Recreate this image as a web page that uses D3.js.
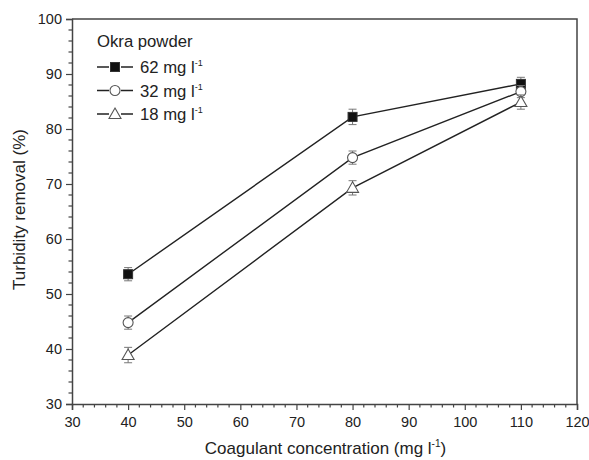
<!DOCTYPE html>
<html>
<head>
<meta charset="utf-8">
<script src="https://cdn.jsdelivr.net/npm/d3@7"></script>
<style>
  body { margin: 0; background: #fff; }
  text { font-family: Arial, "Liberation Sans", sans-serif; fill: #222; }
</style>
</head>
<body>
<div id="chart"></div>
<script>
// data
var doses = [40, 80, 110];
var series = ["62 mg l", "32 mg l", "18 mg l"];
var removal62 = [53.6, 82.2, 88.2];
var removal32 = [44.8, 74.8, 86.8];
var removal18 = [38.9, 69.3, 84.9];
var err62 = [1.2, 1.4, 1.2];
var err32 = [1.2, 1.2, 1.1];
var err18 = [1.4, 1.3, 1.3];
var xTicks = [30, 40, 50, 60, 70, 80, 90, 100, 110, 120];
var yTicks = [30, 40, 50, 60, 70, 80, 90, 100];

(function () {
  var W = 589, H = 460;
  var margin = {top: 19, right: 12, bottom: 56, left: 72};
  var width = W - margin.left - margin.right,
      height = H - margin.top - margin.bottom;

  var svg = d3.select("#chart").append("svg")
      .attr("width", W).attr("height", H)
    .append("g")
      .attr("transform", "translate(" + margin.left + "," + margin.top + ")");

  var x = d3.scaleLinear().domain([30, 120]).range([0, width]);
  var y = d3.scaleLinear().domain([30, 100]).range([height, 0]);

  var axisColor = "#444";

  // frame (top and right)
  svg.append("path")
    .attr("d", "M0,0H" + width + "V" + height)
    .attr("fill", "none").attr("stroke", axisColor).attr("stroke-width", 1.5);

  // minor ticks
  var xMinor = d3.range(30, 121, 2).filter(function (v) { return v % 10 !== 0; });
  var yMinor = d3.range(30, 101, 2).filter(function (v) { return v % 10 !== 0; });

  var gx = svg.append("g").attr("transform", "translate(0," + height + ")");
  gx.call(d3.axisBottom(x).tickValues(xTicks).tickSize(6).tickPadding(7));
  gx.selectAll(".minor").data(xMinor).join("line")
    .attr("x1", function (d) { return x(d); }).attr("x2", function (d) { return x(d); })
    .attr("y1", 0).attr("y2", 3.5);

  var gy = svg.append("g");
  gy.call(d3.axisLeft(y).tickValues(yTicks).tickSize(6).tickPadding(4));
  gy.selectAll(".minor").data(yMinor).join("line")
    .attr("y1", function (d) { return y(d); }).attr("y2", function (d) { return y(d); })
    .attr("x1", 0).attr("x2", -3.5);

  [gx, gy].forEach(function (g) {
    g.select(".domain").attr("stroke", axisColor).attr("stroke-width", 1.5);
    g.selectAll("line").attr("stroke", axisColor).attr("stroke-width", 1.2);
    g.selectAll("text").style("font-size", "14.5px").attr("fill", "#333")
      .style("font-family", "Arial, 'Liberation Sans', sans-serif");
  });

  // axis titles
  var xt = svg.append("text")
    .attr("x", width / 2 + 1).attr("y", height + 50)
    .attr("text-anchor", "middle").style("font-size", "17px");
  xt.append("tspan").text("Coagulant concentration (mg l");
  xt.append("tspan").attr("dy", -7).style("font-size", "10px").text("-1");
  xt.append("tspan").attr("dy", 7).text(")");

  svg.append("text")
    .attr("transform", "rotate(-90)")
    .attr("x", -height / 2 + 2).attr("y", -47)
    .attr("text-anchor", "middle").style("font-size", "17px")
    .text("Turbidity removal (%)");

  var data = [
    {name: series[0], vals: removal62, err: err62, shape: "square"},
    {name: series[1], vals: removal32, err: err32, shape: "circle"},
    {name: series[2], vals: removal18, err: err18, shape: "triangle"}
  ];

  var line = d3.line()
    .x(function (d) { return x(d.x); })
    .y(function (d) { return y(d.y); });

  function drawMarker(g, shape) {
    if (shape === "square") {
      g.append("rect").attr("x", -4.5).attr("y", -4.5).attr("width", 9).attr("height", 9)
        .attr("fill", "#111").attr("stroke", "#333").attr("stroke-width", 1);
    } else if (shape === "circle") {
      g.append("circle").attr("r", 5)
        .attr("fill", "#fff").attr("stroke", "#555").attr("stroke-width", 1.1);
    } else {
      g.append("path").attr("d", "M0,-6L6,4.5L-6,4.5Z")
        .attr("fill", "#fff").attr("stroke", "#555").attr("stroke-width", 1.1);
    }
  }

  data.forEach(function (s) {
    var pts = doses.map(function (d, i) { return {x: d, y: s.vals[i], e: s.err[i]}; });

    svg.append("path").datum(pts)
      .attr("d", line)
      .attr("fill", "none").attr("stroke", "#222").attr("stroke-width", 1.4);

    var eb = svg.append("g").selectAll("g").data(pts).join("g")
      .attr("stroke", "#777").attr("stroke-width", 1);
    eb.append("line")
      .attr("x1", function (d) { return x(d.x); }).attr("x2", function (d) { return x(d.x); })
      .attr("y1", function (d) { return y(d.y + d.e); }).attr("y2", function (d) { return y(d.y - d.e); });
    eb.append("line")
      .attr("x1", function (d) { return x(d.x) - 4; }).attr("x2", function (d) { return x(d.x) + 4; })
      .attr("y1", function (d) { return y(d.y + d.e); }).attr("y2", function (d) { return y(d.y + d.e); });
    eb.append("line")
      .attr("x1", function (d) { return x(d.x) - 4; }).attr("x2", function (d) { return x(d.x) + 4; })
      .attr("y1", function (d) { return y(d.y - d.e); }).attr("y2", function (d) { return y(d.y - d.e); });

    svg.append("g").selectAll("g").data(pts).join("g")
      .attr("transform", function (d) { return "translate(" + x(d.x) + "," + y(d.y) + ")"; })
      .each(function () { drawMarker(d3.select(this), s.shape); });
  });

  // legend
  var leg = svg.append("g").attr("transform", "translate(25,0)");
  leg.append("text").attr("x", 0).attr("y", 28).style("font-size", "16.7px").text("Okra powder");
  data.forEach(function (s, i) {
    var cy = 48 + i * 23.5;
    var row = leg.append("g").attr("transform", "translate(0," + cy + ")");
    row.append("line").attr("x1", 0).attr("x2", 36).attr("y1", 0).attr("y2", 0)
      .attr("stroke", "#222").attr("stroke-width", 1.4);
    var m = row.append("g").attr("transform", "translate(18,0)");
    m.append("rect").attr("x", -6).attr("y", -6).attr("width", 12).attr("height", 12).attr("fill", "#fff");
    drawMarker(m, s.shape);
    var t = row.append("text").attr("x", 43).attr("y", 6).style("font-size", "16.7px");
    t.append("tspan").text(s.name);
    t.append("tspan").attr("dy", -7).style("font-size", "9px").text("-1");
  });
})();
</script>
</body>
</html>
